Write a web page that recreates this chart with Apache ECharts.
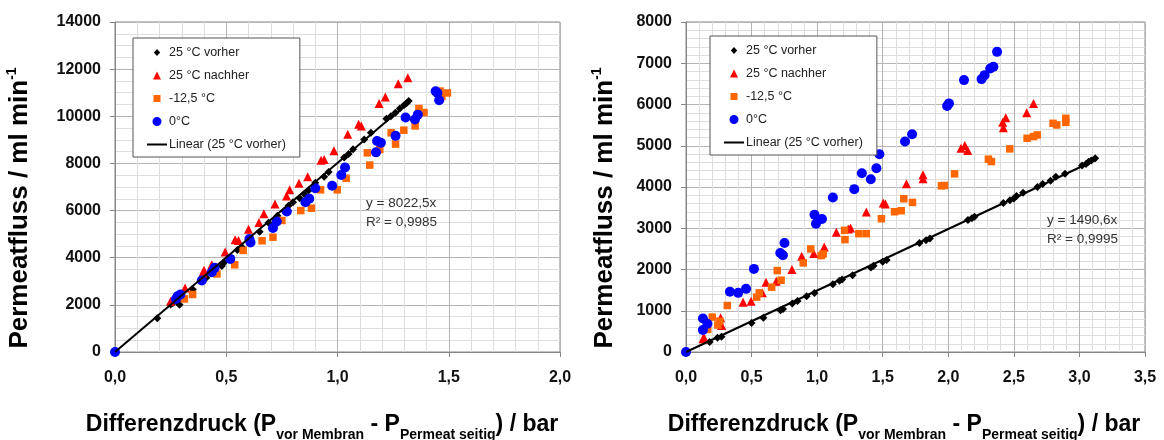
<!DOCTYPE html>
<html>
<head>
<meta charset="utf-8">
<script src="https://cdn.jsdelivr.net/npm/echarts@6/dist/echarts.min.js"></script>
<style>
html,body{margin:0;padding:0;background:#fff;}
#c{width:1164px;height:440px;}
</style>
</head>
<body>
<div id="c"></div>
<script>
// ---------- data ----------
var seriesNames = ['25 °C vorher', '25 °C nachher', '-12,5 °C', '0°C', 'Linear (25 °C vorher)'];

// Left chart
var leftVorher = [[0,0],[0.19,1430],[0.25,2020],[0.26,2080],[0.28,2120],[0.29,2000],[0.35,2650],[0.40,3080],[0.41,3150],[0.48,3650],[0.49,3800],[0.55,4330],[0.57,4450],[0.65,5100],[0.69,5480],[0.72,5650],[0.73,5780],[0.76,5980],[0.78,6200],[0.80,6350],[0.83,6520],[0.85,6700],[0.87,6850],[0.90,7180],[0.94,7430],[0.96,7640],[1.03,8250],[1.05,8400],[1.07,8600],[1.12,9020],[1.15,9300],[1.22,9900],[1.24,10000],[1.26,10150],[1.28,10330],[1.30,10480],[1.31,10550],[1.32,10650]];
var leftNachher = [[0.25,2155],[0.28,2395],[0.315,2720],[0.395,3350],[0.40,3470],[0.435,3700],[0.495,4240],[0.54,4760],[0.555,4730],[0.60,5210],[0.647,5490],[0.669,5860],[0.719,6280],[0.771,6620],[0.785,6880],[0.827,7160],[0.866,7440],[0.926,8140],[0.94,8170],[0.984,8540],[1.046,9240],[1.095,9660],[1.107,9590],[1.187,10540],[1.215,10820],[1.273,11380],[1.316,11640]];
var leftMinus = [[0.312,2250],[0.349,2440],[0.458,3310],[0.538,3700],[0.576,4310],[0.661,4720],[0.71,4870],[0.75,5580],[0.835,6000],[0.883,6100],[0.924,6880],[0.999,6880],[1.039,7370],[1.145,7930],[1.134,8450],[1.19,8590],[1.261,8820],[1.241,9300],[1.298,9410],[1.349,9590],[1.366,10330],[1.389,10160],[1.461,11070],[1.469,10850],[1.494,10990]];
var leftZero = [[0,0],[0.274,2250],[0.282,2370],[0.294,2440],[0.39,3030],[0.435,3380],[0.448,3570],[0.518,3950],[0.604,4790],[0.609,4650],[0.71,5260],[0.727,5540],[0.772,5960],[0.856,6350],[0.873,6500],[0.90,6950],[0.976,7050],[1.017,7510],[1.034,7830],[1.173,8470],[1.178,8950],[1.195,8880],[1.261,9170],[1.306,9950],[1.348,9860],[1.361,10070],[1.441,11060],[1.449,10990],[1.457,10680]];
var leftTrend = [[0,0],[1.325,10630]];

// Right chart
var rightVorher = [[0,0],[0.18,240],[0.24,345],[0.27,370],[0.50,705],[0.59,830],[0.72,1010],[0.74,1040],[0.81,1175],[0.85,1235],[0.92,1350],[0.98,1430],[1.12,1640],[1.17,1730],[1.19,1760],[1.27,1860],[1.41,2050],[1.43,2090],[1.50,2190],[1.53,2230],[1.78,2640],[1.83,2710],[1.86,2750],[2.15,3200],[2.18,3240],[2.20,3280],[2.42,3610],[2.47,3680],[2.50,3720],[2.52,3780],[2.57,3860],[2.68,4000],[2.72,4070],[2.78,4150],[2.82,4250],[2.89,4320],[3.02,4520],[3.05,4560],[3.07,4610],[3.09,4640],[3.12,4700]];
var rightNachher = [[0.129,322],[0.138,346],[0.264,830],[0.272,645],[0.435,1209],[0.496,1233],[0.582,1434],[0.61,1692],[0.688,1716],[0.808,1998],[0.882,2321],[0.974,2385],[1.054,2546],[1.146,2901],[1.237,2981],[1.255,3006],[1.375,3392],[1.504,3610],[1.521,3586],[1.681,4077],[1.807,4295],[1.807,4198],[2.097,4940],[2.126,5004],[2.148,4883],[2.42,5439],[2.415,5568],[2.438,5681],[2.598,5802],[2.65,6027]];
var rightMinus = [[0.166,548],[0.20,846],[0.243,653],[0.258,749],[0.315,1128],[0.539,1330],[0.559,1434],[0.653,1571],[0.696,1974],[0.725,1740],[0.894,2160],[0.951,2498],[1.031,2337],[1.046,2377],[1.209,2949],[1.212,2724],[1.318,2869],[1.375,2869],[1.49,3231],[1.59,3400],[1.641,3425],[1.661,3715],[1.727,3626],[1.948,4029],[1.971,4037],[2.048,4319],[2.306,4674],[2.329,4617],[2.469,4924],[2.601,5181],[2.65,5222],[2.678,5262],[2.799,5544],[2.827,5504],[2.896,5665],[2.896,5568]];
var rightZero = [[0,0],[0.129,532],[0.129,814],[0.163,685],[0.335,1459],[0.398,1434],[0.458,1531],[0.518,2015],[0.719,2401],[0.739,2345],[0.751,2643],[0.98,3328],[0.991,3110],[1.037,3223],[1.12,3747],[1.283,3948],[1.341,4335],[1.409,4190],[1.452,4456],[1.475,4795],[1.67,5101],[1.724,5278],[1.991,5963],[2.005,6027],[2.12,6591],[2.254,6616],[2.277,6712],[2.32,6874],[2.344,6914],[2.372,7276]];
var rightTrend = [[0,0],[3.13,4666]];

// tick labels
var xTicksLeft = ['0,0','0,5','1,0','1,5','2,0'];
var xTicksRight = ['0,0','0,5','1,0','1,5','2,0','2,5','3,0','3,5'];
var yTicksLeft = ['0','2000','4000','6000','8000','10000','12000','14000'];
var yTicksRight = ['0','1000','2000','3000','4000','5000','6000','7000','8000'];

var eqLeft = ['y = 8022,5x', 'R\u00B2 = 0,9985'];
var eqRight = ['y = 1490,6x', 'R\u00B2 = 0,9995'];

// ---------- chart ----------
var FONT = '"Liberation Sans", Arial, sans-serif';
var chart = echarts.init(document.getElementById('c'), null, {renderer: 'canvas'});

function xAxis(gi, max, labels) {
  return {
    type: 'value', gridIndex: gi, min: 0, max: max, interval: 0.5,
    axisLine: {show: true, onZero: false, lineStyle: {color: '#868686', width: 1}},
    axisTick: {show: true, length: 5, lineStyle: {color: '#868686'}},
    axisLabel: {margin: 18, fontFamily: FONT, fontSize: 16, fontWeight: 'bold', color: '#111',
      formatter: function (v, i) { return labels[Math.round(v / 0.5)]; }},
    splitLine: {show: true, lineStyle: {color: '#b4b4b4', width: 1}},
    minorTick: {show: false, splitNumber: 5},
    minorSplitLine: {show: true, lineStyle: {color: '#dedede', width: 1}}
  };
}
function yAxis(gi, max, interval, minorN, labels) {
  return {
    type: 'value', gridIndex: gi, min: 0, max: max, interval: interval,
    axisLine: {show: true, onZero: false, lineStyle: {color: '#868686', width: 1}},
    axisTick: {show: true, length: 5, lineStyle: {color: '#868686'}},
    axisLabel: {margin: 14, fontFamily: FONT, fontSize: 16, fontWeight: 'bold', color: '#111',
      formatter: function (v) { return labels[Math.round(v / interval)]; }},
    splitLine: {show: true, lineStyle: {color: '#b4b4b4', width: 1}},
    minorTick: {show: false, splitNumber: minorN},
    minorSplitLine: {show: true, lineStyle: {color: '#dedede', width: 1}}
  };
}
function scatter(name, gi, data, symbol, size, color) {
  return {name: name, type: 'scatter', xAxisIndex: gi, yAxisIndex: gi, data: data,
    symbol: symbol, symbolSize: size, itemStyle: {color: color, opacity: 1}, z: 3};
}
function trend(gi, data) {
  return {name: seriesNames[4], type: 'line', xAxisIndex: gi, yAxisIndex: gi, data: data,
    symbol: 'none', lineStyle: {color: '#000', width: 2}, itemStyle: {color: '#000'}, z: 4};
}
// legend icon shapes inside a fixed 20x9 box (tiny corner specks pin the bounding box)
var BOX = 'M0,0 L0.01,0 L0,0.01 Z M20,9 L19.99,9 L20,8.99 Z ';
var legendIcons = [
  'path://' + BOX + 'M10,1 L13.2,4.5 L10,8 L6.8,4.5 Z',
  'path://' + BOX + 'M10,0.5 L14,8.5 L6,8.5 Z',
  'path://' + BOX + 'M6.5,1 L13.5,1 L13.5,8 L6.5,8 Z',
  'path://' + BOX + 'M10,0 A4.5,4.5 0 1 1 9.99,0 Z',
  'path://' + BOX + 'M0,3.5 L20,3.5 L20,5.5 L0,5.5 Z'
];
function legend(left, top) {
  return {
    orient: 'vertical', left: left, top: top,
    data: seriesNames.map(function (n, i) { return {name: n, icon: legendIcons[i]}; }),
    backgroundColor: '#fff', borderColor: '#555', borderWidth: 1, borderRadius: 0,
    padding: [8, 14, 6, 14], itemWidth: 20, itemHeight: 9, itemGap: 10,
    textStyle: {fontFamily: FONT, fontSize: 12.5, color: '#222', padding: [0, 0, 0, -3]},
    selectedMode: false
  };
}

var titleRich = {
  s: {fontFamily: FONT, fontSize: 14, fontWeight: 'bold', fill: '#000', lineHeight: 14, verticalAlign: 'bottom'}
};
function xTitle(cx) {
  return {
    type: 'text', x: cx, y: 408, z: 10,
    style: {
      text: 'Differenzdruck (P{s|vor Membran} - P{s|Permeat seitig}) / bar',
      fontFamily: FONT, fontSize: 23, fontWeight: 'bold', fill: '#000', lineHeight: 34,
      align: 'center', verticalAlign: 'top', rich: titleRich
    }
  };
}
function yTitle(cx) {
  return {
    type: 'text', x: cx, y: 208, rotation: Math.PI / 2, z: 10,
    style: {
      text: 'Permeatfluss / ml min{p|-1}',
      fontFamily: FONT, fontSize: 26, fontWeight: 'bold', fill: '#000', lineHeight: 30,
      align: 'center', verticalAlign: 'middle',
      rich: {p: {fontFamily: FONT, fontSize: 14, fontWeight: 'bold', fill: '#000', lineHeight: 14, verticalAlign: 'top'}}
    }
  };
}
function eq(x, y, lines) {
  return {
    type: 'text', x: x, y: y, z: 10,
    style: {text: lines.join('\n'), fontFamily: FONT, fontSize: 13.5, fill: '#333', lineHeight: 19,
      align: 'left', verticalAlign: 'top'}
  };
}

chart.setOption({
  animation: false,
  backgroundColor: '#fff',
  grid: [
    {left: 115, top: 22, width: 445, height: 330, show: true, borderColor: '#868686', borderWidth: 1, backgroundColor: '#fff'},
    {left: 686, top: 22, width: 459, height: 330, show: true, borderColor: '#868686', borderWidth: 1, backgroundColor: '#fff'}
  ],
  xAxis: [xAxis(0, 2, xTicksLeft), xAxis(1, 3.5, xTicksRight)],
  yAxis: [yAxis(0, 14000, 2000, 4, yTicksLeft), yAxis(1, 8000, 1000, 5, yTicksRight)],
  legend: [legend(133, 38), legend(710, 36)],
  series: [
    scatter(seriesNames[0], 0, leftVorher, 'diamond', 8, '#000'),
    scatter(seriesNames[1], 0, leftNachher, 'triangle', 9, '#ff0000'),
    scatter(seriesNames[2], 0, leftMinus, 'rect', 7.5, '#ff6600'),
    scatter(seriesNames[3], 0, leftZero, 'circle', 10, '#0000ff'),
    trend(0, leftTrend),
    scatter(seriesNames[0], 1, rightVorher, 'diamond', 8, '#000'),
    scatter(seriesNames[1], 1, rightNachher, 'triangle', 9, '#ff0000'),
    scatter(seriesNames[2], 1, rightMinus, 'rect', 7.5, '#ff6600'),
    scatter(seriesNames[3], 1, rightZero, 'circle', 10, '#0000ff'),
    trend(1, rightTrend)
  ],
  graphic: [
    xTitle(322), xTitle(904),
    yTitle(20), yTitle(605),
    eq(366, 194, eqLeft), eq(1047, 211, eqRight)
  ]
});
</script>
</body>
</html>
